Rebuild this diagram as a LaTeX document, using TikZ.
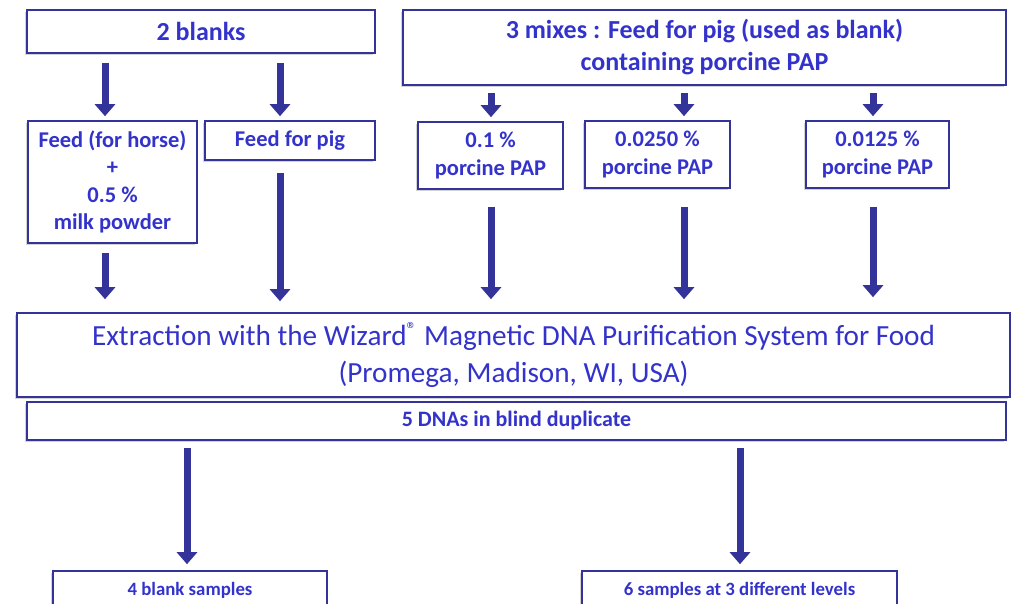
\documentclass[tikz,border=0pt]{standalone}
\usepackage{fontspec}
\setmainfont{Carlito}
\usetikzlibrary{arrows.meta,shadows}
\definecolor{txtblue}{HTML}{3333CC}
\definecolor{edgeblue}{HTML}{333399}
\definecolor{arrblue}{HTML}{333399}
\tikzset{
  box/.style={draw=edgeblue, line width=1.6pt, fill=white, rectangle, inner sep=0pt,
    text=txtblue, align=center,
    drop shadow={shadow xshift=-2pt, shadow yshift=-2pt, opacity=0.35, fill=gray}},
  bigbold/.style={font={\fontsize{26}{32}\selectfont\bfseries}},
  midbold/.style={font={\fontsize{22.5}{27.3}\selectfont\bfseries}},
  smallbold/.style={font={\fontsize{22}{24}\selectfont\bfseries}},
  tinybold/.style={font={\fontsize{18.8}{20}\selectfont\bfseries}},
  blk/.style={draw=arrblue, line width=7pt, -{Triangle[width=20pt,length=12pt]}, color=arrblue},
}
\begin{document}
\begin{tikzpicture}[x=1pt,y=-1pt]
\useasboundingbox (0,0) rectangle (1012,604);
\clip (0,0) rectangle (1012,604);
% top boxes
\node[box,bigbold,minimum width=348pt,minimum height=43pt] (blanks) at (201,31.5) {2 blanks};
\node[box,bigbold,minimum width=603pt,minimum height=75pt] (mixes) at (704.5,47.5) {3 mixes : Feed for pig (used as blank)\\containing porcine PAP};
% second row
\node[box,midbold,minimum width=169pt,minimum height=122pt] (horse) at (112.5,182) {Feed (for horse)\\+\\0.5 \%\\milk powder};
\node[box,midbold,minimum width=170pt,minimum height=39pt] (pig) at (290,140.5) {Feed for pig};
\node[box,midbold,minimum width=145pt,minimum height=67pt] (p1) at (490.5,155.5) {0.1 \%\\porcine PAP};
\node[box,midbold,minimum width=145pt,minimum height=67pt] (p2) at (657.5,154.5) {0.0250 \%\\porcine PAP};
\node[box,midbold,minimum width=143pt,minimum height=67pt] (p3) at (877.5,154.5) {0.0125 \%\\porcine PAP};
% extraction
\node[box,font={\fontsize{29.2}{37}\selectfont},minimum width=993pt,minimum height=84pt] (extr) at (513.5,355) {Extraction with the Wizard\textsuperscript{®} Magnetic DNA Purification System for Food\\(Promega, Madison, WI, USA)};
\node[box,smallbold,minimum width=979pt,minimum height=38pt] (dna) at (516.5,421) {5 DNAs in blind duplicate};
% bottom
\node[box,tinybold,minimum width=274pt,minimum height=38pt] (s1) at (190,590) {4 blank samples};
\node[box,tinybold,minimum width=315pt,minimum height=38pt] (s2) at (739.5,590) {6 samples at 3 different levels};
% arrow columns
\coordinate (c1) at (105,0);
\coordinate (c2) at (280,0);
\coordinate (c3) at (491,0);
\coordinate (c4) at (684,0);
\coordinate (c5) at (873,0);
\coordinate (c6) at (187,0);
\coordinate (c7) at (740,0);
% arrows
\draw[blk] ([yshift=-9pt]blanks.south -| c1) -- ([yshift=4pt]horse.north -| c1);
\draw[blk] ([yshift=-9pt]blanks.south -| c2) -- ([yshift=4pt]pig.north -| c2);
\draw[blk] ([yshift=-7pt]mixes.south -| c3) -- ([yshift=4pt]p1.north -| c3);
\draw[blk] ([yshift=-7pt]mixes.south -| c4) -- ([yshift=4pt]p2.north -| c4);
\draw[blk] ([yshift=-7pt]mixes.south -| c5) -- ([yshift=4pt]p3.north -| c5);
\draw[blk] ([yshift=-9pt]horse.south -| c1) -- ([yshift=13pt]extr.north -| c1);
\draw[blk] ([yshift=-12pt]pig.south -| c2) -- ([yshift=11pt]extr.north -| c2);
\draw[blk] ([yshift=-17pt]p1.south -| c3) -- ([yshift=13pt]extr.north -| c3);
\draw[blk] ([yshift=-18pt]p2.south -| c4) -- ([yshift=13pt]extr.north -| c4);
\draw[blk] ([yshift=-18pt]p3.south -| c5) -- ([yshift=15pt]extr.north -| c5);
\draw[blk] ([yshift=-7pt]dna.south -| c6) -- ([yshift=6pt]s1.north -| c6);
\draw[blk] ([yshift=-7pt]dna.south -| c7) -- ([yshift=6pt]s2.north -| c7);
\end{tikzpicture}
\end{document}
